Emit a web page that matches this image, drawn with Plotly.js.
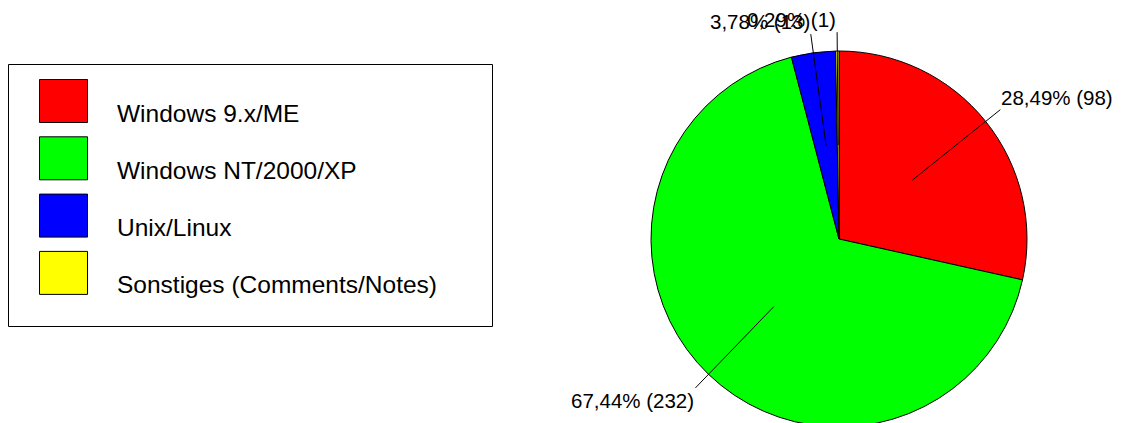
<!DOCTYPE html>
<html><head><meta charset="utf-8">
<script src="https://cdn.plot.ly/plotly-3.0.1.min.js"></script>
<style>html,body{margin:0;padding:0;overflow:hidden;background:#fff}</style>
</head><body><div id="chart"></div>
<script>
// ---- data ----
const labels = ['Windows 9.x/ME', 'Windows NT/2000/XP', 'Unix/Linux', 'Sonstiges (Comments/Notes)'];
const counts = [98, 232, 13, 1];
const colors = ['#ff0000', '#00ff00', '#0000ff', '#ffff00'];

// ---- layout geometry ----
const W = 1121, H = 442, MT = 51, MB = 15;
const PH = H - MT - MB;          // plot height in px
const R = PH / 2;                // pie radius in px
const CX = 839, CY = MT + R;     // pie centre in px
const px = x => x / W;
const py = y => 1 - (y - MT) / PH;

const total = counts.reduce((a, b) => a + b, 0);
const pctText = counts.map(v => (v / total * 100).toFixed(2).replace('.', ',') + '% (' + v + ')');

const shapes = [];
const annotations = [];

// leader lines + labels
let cum = 0;
counts.forEach((v, i) => {
  const f = (cum + v / 2) / total;
  cum += v;
  const th = 2 * Math.PI * f;
  const s = Math.sin(th), c = Math.cos(th);
  const x0 = CX + 0.5 * R * s, y0 = CY - 0.5 * R * c;
  const x1 = CX + 1.1 * R * s, y1 = CY - 1.1 * R * c;
  shapes.push({type: 'line', xref: 'paper', yref: 'paper', x0: px(x0), y0: py(y0), x1: px(x1), y1: py(y1),
    line: {color: '#000', width: 1}});
  annotations.push({xref: 'paper', yref: 'paper', x: px(x1), y: py(y1), text: pctText[i], showarrow: false,
    xanchor: s >= 0 ? 'left' : 'right', yanchor: c >= 0 ? 'bottom' : 'top',
    font: {family: 'Liberation Sans, Arial, sans-serif', size: 20.5, color: '#000'}, borderpad: 0});
});

// custom legend
shapes.push({type: 'rect', xref: 'paper', yref: 'paper', x0: px(8.5), x1: px(492.5), y0: py(64.5), y1: py(326.5),
  line: {color: '#000', width: 1}, fillcolor: 'rgba(0,0,0,0)'});
labels.forEach((lab, i) => {
  const top = 79 + i * 57.3;
  shapes.push({type: 'rect', xref: 'paper', yref: 'paper', x0: px(39.5), x1: px(87.5), y0: py(top + 0.5), y1: py(top + 43.5),
    line: {color: '#000', width: 1}, fillcolor: colors[i]});
  annotations.push({xref: 'paper', yref: 'paper', x: px(116), y: py(top + 34), text: lab, showarrow: false,
    xanchor: 'left', yanchor: 'middle', borderpad: 0,
    font: {family: 'Liberation Sans, Arial, sans-serif', size: 24.5, color: '#000'}});
});

const trace = {
  type: 'pie',
  labels: labels,
  values: counts,
  sort: false,
  direction: 'clockwise',
  rotation: 0,
  textinfo: 'none',
  hoverinfo: 'none',
  marker: {colors: colors, line: {color: '#000', width: 1}},
  domain: {x: [px(CX - R), px(CX + R)], y: [0, 1]},
  showlegend: false
};

Plotly.newPlot('chart', [trace], {
  width: W, height: H,
  margin: {l: 0, r: 0, t: MT, b: MB},
  paper_bgcolor: '#fff', plot_bgcolor: '#fff',
  showlegend: false,
  shapes: shapes,
  annotations: annotations
}, {displayModeBar: false, staticPlot: true});
</script>
</body></html>
